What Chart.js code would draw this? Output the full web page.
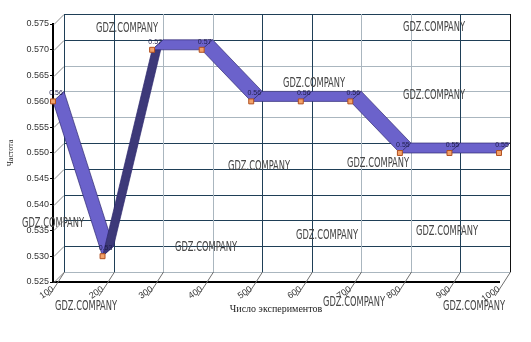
<!DOCTYPE html>
<html>
<head>
<meta charset="utf-8">
<script src="https://cdn.jsdelivr.net/npm/chart.js@4.4.0/dist/chart.umd.min.js"></script>
<style>
  html, body { margin: 0; padding: 0; background: #fff; }
  #wrap { width: 531px; height: 342px; }
</style>
</head>
<body>
<div id="wrap"><canvas id="freqChart"></canvas></div>
<script>
// data
const experiments = ['100', '200', '300', '400', '500', '600', '700', '800', '900', '1000'];
const frequency = [0.56, 0.53, 0.57, 0.57, 0.56, 0.56, 0.56, 0.55, 0.55, 0.55];
const freqLabels = ['0.56', '0.53', '0.57', '0.57', '0.56', '0.56', '0.56', '0.55', '0.55', '0.55'];
const yMin = 0.525;
const yMax = 0.575;
const yStep = 0.005;

// fake 3d: back wall is shifted by this much from the front axes
const DX = 11, DY = -10;
const DARK = '#1f3f57', LIGHT = '#aab6bf';
const darkCols = [true, true, false, false, true, true, false, false, true, true];
const darkRows = [false, true, true, true, true, true, false, false, false, true, true];

const watermarks = [
  [96, 32], [403, 31], [283, 87], [403, 99], [228, 170], [347, 167],
  [22, 227], [175, 251], [296, 239], [416, 235], [55, 310], [323, 306], [443, 310]
];

function seg(ctx, x1, y1, x2, y2) {
  ctx.beginPath();
  ctx.moveTo(x1, y1);
  ctx.lineTo(x2, y2);
  ctx.stroke();
}

const depthPlugin = {
  id: 'depth',
  beforeDatasetsDraw(chart) {
    const { ctx, scales: { x, y } } = chart;
    const left = x.getPixelForValue(0);
    const right = x.getPixelForValue(experiments.length - 1);
    const top = y.getPixelForValue(yMax);
    const bottom = y.getPixelForValue(yMin);
    ctx.save();
    ctx.lineWidth = 1;

    // horizontal lines on the back wall + little diagonals on the left side
    y.ticks.forEach((t, i) => {
      const py = Math.round(y.getPixelForValue(t.value) + DY) + 0.5;
      ctx.strokeStyle = darkRows[i] ? DARK : LIGHT;
      seg(ctx, left + DX, py, right + DX, py);
      ctx.strokeStyle = '#8c8c8c';
      seg(ctx, left + 1, py - DY, left + DX, py);
    });

    // vertical lines on the back wall + floor diagonals
    experiments.forEach((e, i) => {
      const px = Math.round(x.getPixelForValue(i) + DX) + 0.5;
      ctx.strokeStyle = darkCols[i] ? DARK : LIGHT;
      seg(ctx, px, top + DY, px, bottom + DY);
      ctx.strokeStyle = '#6f6f6f';
      seg(ctx, px, bottom + DY, px - DX * 1.4, bottom - DY * 1.4);
    });
    ctx.strokeStyle = DARK;
    seg(ctx, left + DX + 0.5, top + DY, left + DX + 0.5, bottom + DY);
    ctx.strokeStyle = '#111';
    seg(ctx, right + DX + 0.5, top + DY, right + DX + 0.5, bottom + DY);

    // the ribbon
    const pts = chart.getDatasetMeta(0).data;
    for (let i = 0; i < pts.length - 1; i++) {
      const a = pts[i], b = pts[i + 1];
      ctx.beginPath();
      ctx.moveTo(a.x, a.y);
      ctx.lineTo(b.x, b.y);
      ctx.lineTo(b.x + DX, b.y + DY);
      ctx.lineTo(a.x + DX, a.y + DY);
      ctx.closePath();
      ctx.fillStyle = b.y < a.y - 1 ? '#3d3979' : '#6b62cb';
      ctx.fill();
      ctx.strokeStyle = 'rgba(45,38,110,0.85)';
      ctx.lineWidth = 0.8;
      ctx.stroke();
    }
    ctx.restore();
  },
  afterDatasetsDraw(chart) {
    const { ctx } = chart;
    const pts = chart.getDatasetMeta(0).data;
    ctx.save();
    ctx.font = '7px "Liberation Sans"';
    ctx.fillStyle = '#1d1d4a';
    ctx.textAlign = 'center';
    ctx.textBaseline = 'middle';
    pts.forEach((p, i) => ctx.fillText(freqLabels[i], p.x + 3, p.y - 8));
    ctx.restore();
  },
  afterDraw(chart) {
    const { ctx } = chart;
    ctx.save();
    ctx.font = '14px "Liberation Sans Narrow", "DejaVu Sans Condensed", "Liberation Sans"';
    ctx.fillStyle = '#454545';
    ctx.textBaseline = 'alphabetic';
    watermarks.forEach(([wx, wy]) => ctx.fillText('GDZ.COMPANY', wx, wy, 62));
    ctx.restore();
  }
};

const freqChart = new Chart(document.getElementById('freqChart'), {
  type: 'line',
  data: {
    labels: experiments,
    datasets: [{
      label: 'Частота',
      data: frequency,
      showLine: false,
      clip: false,
      pointStyle: 'rect',
      pointRadius: 3.5,
      pointBackgroundColor: '#f2a26a',
      pointBorderColor: '#b1501f',
      pointBorderWidth: 1
    }]
  },
  options: {
    responsive: true,
    maintainAspectRatio: false,
    animation: false,
    events: [],
    layout: { padding: { top: 24, right: 32, left: 0, bottom: 0 } },
    plugins: { legend: { display: false }, tooltip: { enabled: false } },
    scales: {
      x: {
        offset: false,
        afterFit: s => { s.height = 60; },
        ticks: {
          autoSkip: false, minRotation: 35, maxRotation: 35, padding: 2,
          font: { family: 'Liberation Sans', size: 9 }, color: '#333'
        },
        grid: { drawOnChartArea: false, drawTicks: false },
        border: { color: '#000', width: 2 },
        title: {
          display: true, text: 'Число экспериментов', color: '#222',
          font: { family: 'Liberation Serif', size: 10 },
          padding: { top: 0, bottom: 27 }
        }
      },
      y: {
        min: yMin,
        max: yMax,
        afterFit: s => { s.width = 53; },
        ticks: {
          stepSize: yStep, padding: 1, color: '#333',
          font: { family: 'Liberation Sans', size: 9 },
          callback: v => v.toFixed(3)
        },
        grid: { drawOnChartArea: false, color: '#000', tickLength: 3 },
        border: { color: '#000', width: 2 },
        title: {
          display: true, text: 'Частота', color: '#222',
          font: { family: 'Liberation Serif', size: 8 },
          padding: { top: 6, bottom: 0 }
        }
      }
    }
  },
  plugins: [depthPlugin]
});
</script>
</body>
</html>
